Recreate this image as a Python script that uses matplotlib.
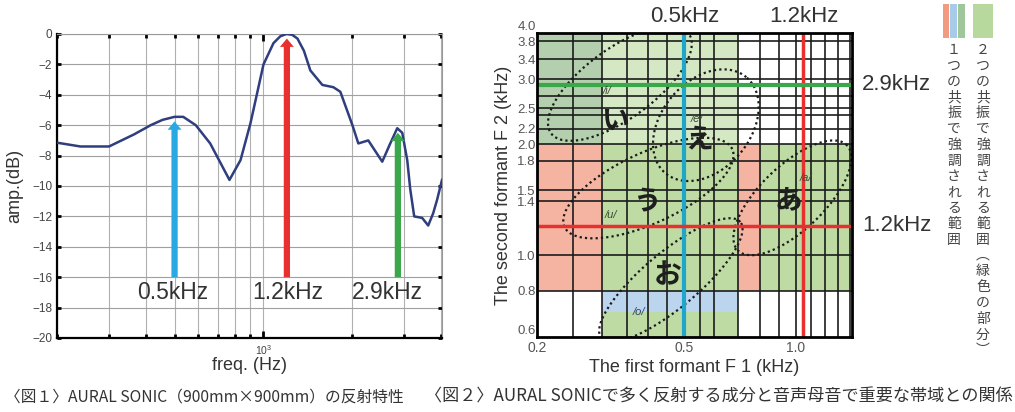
import numpy as np
import matplotlib
matplotlib.use("Agg")
import matplotlib.pyplot as plt
from matplotlib.patches import Rectangle
from matplotlib.ticker import FixedLocator, FuncFormatter, NullFormatter, NullLocator
from matplotlib.transforms import blended_transform_factory

plt.rcParams['font.family'] = ['Liberation Sans', 'Noto Sans CJK JP', 'DejaVu Sans']

# ---- figure 1 data: reflection response of the panel ----
freq_hz = [200, 240, 300, 365, 415, 455, 500, 535, 590, 660,
           716, 767, 836, 904, 1000, 1081, 1140, 1196, 1250, 1303,
           1370, 1441, 1582, 1724, 1820, 2000, 2094, 2263, 2523, 2686,
           2836, 2949, 3066, 3138, 3237, 3444, 3610, 3752, 3870, 4020]
amp_db = [-7.15, -7.4, -7.4, -6.6, -6.0, -5.65, -5.45, -5.45, -6.0, -7.2,
          -8.5, -9.6, -8.3, -5.85, -2.0, -0.6, -0.15, 0.0, -0.05, -0.3,
          -1.1, -2.4, -3.35, -3.5, -3.8, -6.0, -7.2, -7.0, -8.4, -7.2,
          -6.2, -6.5, -8.3, -10.2, -12.0, -12.1, -12.6, -11.8, -10.9, -9.6]

# resonance arrows (freq, top of arrow) and their labels
arrow_freq = [500, 1200, 2850]
arrow_top = [-5.75, -0.3, -6.5]
arrow_bottom = -16
arrow_labels = ['0.5kHz', '1.2kHz', '2.9kHz']
label_freq = [493, 1205, 2624]
label_db = -17.0

# ---- figure 2 data: formant chart ----
# emphasised bands (F1 lo, F1 hi, F2 lo, F2 hi) in kHz, and what they are
band_f1_lo = [0.2, 0.3, 0.2, 0.3, 0.7, 0.8, 0.3, 0.3]
band_f1_hi = [0.3, 0.7, 0.3, 0.7, 0.8, 1.42, 0.7, 0.7]
band_f2_lo = [2.0, 2.0, 0.8, 0.8, 0.8, 0.8, 0.7, 0.6]
band_f2_hi = [4.0, 4.0, 2.0, 2.0, 2.0, 2.0, 0.8, 0.7]
band_kind = ['one_29', 'two_light', 'one_12', 'two', 'one_12', 'two', 'one_05', 'two']

grid_f1 = [0.25, 0.3, 0.35, 0.4, 0.45, 0.5, 0.55, 0.6, 0.7, 0.8, 0.9, 1.0, 1.1, 1.2, 1.3, 1.4]
grid_f2 = [0.8, 1.0, 1.2, 1.4, 1.5, 1.8, 2.0, 2.2, 2.4, 2.5, 2.7, 3.0, 3.4, 3.8]
f1_ticks = [0.2, 0.5, 1.0]
f2_ticks = [0.6, 0.8, 1.0, 1.4, 1.5, 1.8, 2.0, 2.2, 2.5, 3.0, 3.4, 3.8, 4.0]

# resonance lines on the chart
res_f1 = [0.5, 1.05]          # vertical lines, as drawn
res_f1_labels = ['0.5kHz', '1.2kHz']
res_f2 = [2.9, 1.2]           # horizontal lines
res_f2_labels = ['2.9kHz', '1.2kHz']

# vowel regions: centre F1, centre F2 (kHz), semi axes (decades), tilt (deg)
vowel_f1 = [0.335, 0.572, 0.40, 0.46, 0.98]
vowel_f2 = [2.92, 2.25, 1.52, 0.856, 1.43]
vowel_a = [0.23, 0.17, 0.25, 0.245, 0.205]
vowel_b = [0.095, 0.12, 0.095, 0.075, 0.087]
vowel_tilt = [36, 50, 25, 40, 44]

vowel_kana = ['い', 'え', 'う', 'お', 'あ']
kana_f1 = [0.324, 0.547, 0.397, 0.452, 0.954]
kana_f2 = [2.32, 2.05, 1.40, 0.883, 1.41]
vowel_ipa = ['/i/', '/e/', '/u/', '/o/', '/a/']
ipa_f1 = [0.310, 0.54, 0.316, 0.378, 1.066]
ipa_f2 = [2.78, 2.34, 1.285, 0.70, 1.62]

legend_one = '１つの共振で強調される範囲'
legend_two = '２つの共振で強調される範囲︵緑色の部分︶'
caption1 = '〈図１〉AURAL SONIC（900mm×900mm）の反射特性'
caption2 = '〈図２〉AURAL SONICで多く反射する成分と音声母音で重要な帯域との関係'

band_colors = {'one_29': '#b3cfad', 'two_light': '#d5e8c4', 'one_12': '#f5b4a2',
               'two': '#bddba3', 'one_05': '#bcd5ee'}
c_blue = '#29a9e1'
c_red = '#e8312f'
c_green = '#3aa84a'

W, H = 1015, 412
fig = plt.figure(figsize=(W / 100, H / 100), dpi=100)


def px_box(x0, y0, x1, y1):
    # pixel box (top-left origin) -> figure fraction rect
    return [x0 / W, 1 - y1 / H, (x1 - x0) / W, (y1 - y0) / H]


# ================= left chart =================
ax1 = fig.add_axes(px_box(57, 34, 442, 338))
ax1.set_xscale('log')
ax1.set_xlim(200, 4020)
ax1.set_ylim(-20, 0)
ax1.plot(freq_hz, amp_db, color='#2e3e7e', lw=1.8, zorder=4)

ax1.set_yticks(np.arange(-20, 1, 2))
ax1.xaxis.set_minor_formatter(NullFormatter())
ax1.grid(True, which='both', axis='x', color='#b0b0b0', lw=0.8)
ax1.grid(True, which='major', axis='y', color='#a0a0a0', lw=0.8)
ax1.tick_params(which='both', direction='in', top=True, right=True,
                length=3, width=2, color='black', labelsize=8.5, labelcolor='#444')
ax1.tick_params(axis='x', which='major', length=5, labelsize=7.5)
for s in ['left', 'bottom']:
    ax1.spines[s].set_linewidth(1.6)
for s in ['top', 'right']:
    ax1.spines[s].set_color('#999999')
    ax1.spines[s].set_linewidth(0.8)
ax1.set_xlabel('freq. (Hz)', fontsize=13, color='#333', labelpad=0)
ax1.set_ylabel('amp.(dB)', fontsize=13, color='#333', labelpad=6)

arrow_colors = [c_blue, c_red, c_green]
for f, top, col in zip(arrow_freq, arrow_top, arrow_colors):
    ax1.annotate('', xy=(f, top), xytext=(f, arrow_bottom),
                 arrowprops=dict(arrowstyle='simple,head_length=0.6,head_width=1.0,tail_width=0.45',
                                 mutation_scale=10, color=col, lw=0,
                                 shrinkA=0, shrinkB=0), zorder=5)
for f, lab in zip(label_freq, arrow_labels):
    ax1.text(f, label_db, lab, ha='center', va='center', fontsize=16.5, color='#333', zorder=6)

# ================= right chart =================
ax2 = fig.add_axes(px_box(537, 33, 852, 337))
ax2.set_xscale('log')
ax2.set_yscale('log')
ax2.set_xlim(0.2, 1.42)
ax2.set_ylim(0.6, 4.0)

for x0, x1, y0, y1, k in zip(band_f1_lo, band_f1_hi, band_f2_lo, band_f2_hi, band_kind):
    ax2.add_patch(Rectangle((x0, y0), x1 - x0, y1 - y0, facecolor=band_colors[k],
                            edgecolor='none', zorder=0))
for x in grid_f1:
    ax2.axvline(x, color='#1c1c1c', lw=1.2, zorder=1)
for y in grid_f2:
    ax2.axhline(y, color='#1c1c1c', lw=1.2, zorder=1)

# vowel regions as dotted ellipses in log space
t = np.linspace(0, 2 * np.pi, 300)
for cx, cy, a, b, ang in zip(vowel_f1, vowel_f2, vowel_a, vowel_b, vowel_tilt):
    th = np.radians(ang)
    lx = np.log10(cx) + a * np.cos(t) * np.cos(th) - b * np.sin(t) * np.sin(th)
    ly = np.log10(cy) + a * np.cos(t) * np.sin(th) + b * np.sin(t) * np.cos(th)
    ax2.plot(10 ** lx, 10 ** ly, color='#1a1a1a', lw=1.6, ls=(0, (1, 1.4)), zorder=2)

ax2.axvline(res_f1[0], color='#1fa6c9', lw=3, zorder=3)
ax2.axvline(res_f1[1], color=c_red, lw=2.5, zorder=3)
ax2.axhline(res_f2[0], color=c_green, lw=3, zorder=3)
ax2.axhline(res_f2[1], color=c_red, lw=2.5, zorder=3)

tx = blended_transform_factory(ax2.transData, ax2.transAxes)
for x, lab in zip(res_f1, res_f1_labels):
    ax2.text(x, 1.035, lab, transform=tx, ha='center', va='baseline', fontsize=16, color='#333')
ty = blended_transform_factory(ax2.transAxes, ax2.transData)
for y, lab in zip(res_f2, res_f2_labels):
    ax2.text(1.032, y, lab, transform=ty, ha='left', va='center', fontsize=16, color='#333')

for k, x, y in zip(vowel_kana, kana_f1, kana_f2):
    ax2.text(x, y, k, ha='center', va='center', fontsize=20, color='#1e1e1e',
             family=['Noto Sans CJK JP'], weight='bold', zorder=4)
for s, x, y in zip(vowel_ipa, ipa_f1, ipa_f2):
    col = '#2f3f6a' if s == '/o/' else '#3b4a35'
    ax2.text(x, y, s, ha='center', va='center', fontsize=8, style='italic', color=col, zorder=4)

ax2.xaxis.set_major_locator(FixedLocator(f1_ticks))
ax2.yaxis.set_major_locator(FixedLocator(f2_ticks))
ax2.xaxis.set_minor_locator(NullLocator())
ax2.yaxis.set_minor_locator(NullLocator())
fmt = FuncFormatter(lambda v, p: f'{v:.1f}')
ax2.xaxis.set_major_formatter(fmt)
ax2.yaxis.set_major_formatter(fmt)
ax2.tick_params(length=0, labelcolor='#555')
ax2.tick_params(axis='x', pad=3, labelsize=10)
ax2.tick_params(axis='y', pad=1, labelsize=9.5)
# the end labels sit tight against their neighbours, nudge them off
ylabels = ax2.get_yticklabels()
ylabels[0].set_va('bottom')
ylabels[-1].set_va('bottom')
for s in ax2.spines.values():
    s.set_linewidth(2)
    s.set_zorder(5)
ax2.set_xlabel('The first formant F 1 (kHz)', fontsize=13, color='#333', labelpad=3)
ax2.set_ylabel('The second formant F 2 (kHz)', fontsize=13, color='#333', labelpad=4)

# ---- legend swatches and vertical text ----
for (x0, x1), col in zip([(943, 949), (950, 957), (958, 965), (973, 993)],
                         ['#f39b80', '#a9cbea', '#a0c69b', '#b7d99d']):
    fig.add_artist(Rectangle(px_box(x0, 4, x1, 38)[:2], (x1 - x0) / W, 34 / H,
                             transform=fig.transFigure, facecolor=col, edgecolor='none'))
for col_x, text in [(954, legend_one), (983, legend_two)]:
    for i, ch in enumerate(text):
        fig.text(col_x / W, 1 - (50 + i * 15.8) / H, ch, ha='center', va='center',
                 fontsize=10, color='#444', family=['Noto Sans CJK JP'])

fig.text(5 / W, 1 - 397 / H, caption1, ha='left', va='center', fontsize=11.3,
         color='#333', family=['Noto Sans CJK JP'])
fig.text(425 / W, 1 - 397 / H, caption2, ha='left', va='center', fontsize=12.3,
         color='#333', family=['Noto Sans CJK JP'])

fig.savefig('out.png', dpi=100)
